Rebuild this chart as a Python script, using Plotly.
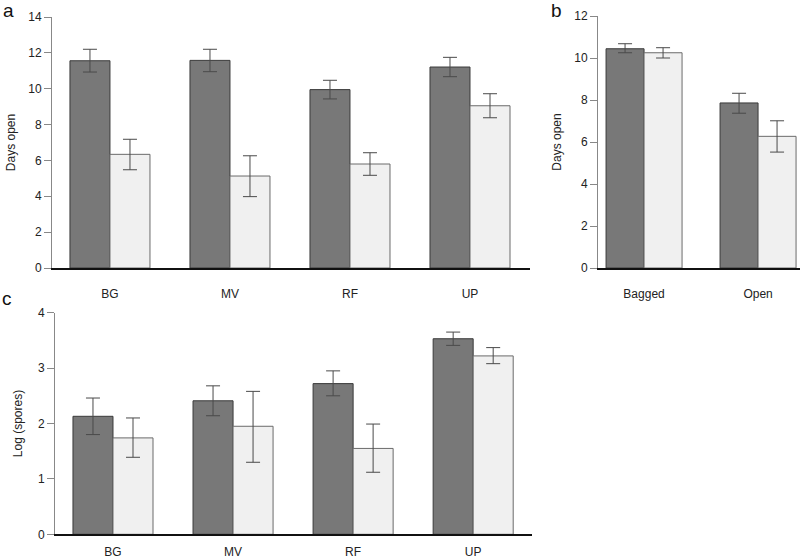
import plotly.graph_objects as go

W, H = 800, 560

# ---- data ----
sites = ["BG", "MV", "RF", "UP"]
a_dark = [11.56, 11.58, 9.95, 11.21]
a_dark_hi = [12.20, 12.20, 10.47, 11.75]
a_dark_lo = [10.93, 10.95, 9.43, 10.67]
a_light = [6.34, 5.13, 5.80, 9.05]
a_light_hi = [7.18, 6.26, 6.43, 9.72]
a_light_lo = [5.48, 3.98, 5.17, 8.38]

treat = ["Bagged", "Open"]
b_dark = [10.44, 7.86]
b_dark_hi = [10.68, 8.32]
b_dark_lo = [10.25, 7.37]
b_light = [10.25, 6.27]
b_light_hi = [10.49, 7.01]
b_light_lo = [10.00, 5.52]

c_dark = [2.13, 2.41, 2.72, 3.53]
c_dark_hi = [2.46, 2.68, 2.95, 3.65]
c_dark_lo = [1.80, 2.14, 2.50, 3.41]
c_light = [1.74, 1.95, 1.55, 3.22]
c_light_hi = [2.10, 2.58, 1.99, 3.37]
c_light_lo = [1.39, 1.30, 1.12, 3.08]

DARK = "#787878"
DARK_LINE = "#3a3a3a"
LIGHT = "#f0f0f0"
LIGHT_LINE = "#6a6a6a"
ERR = "#4a4a4a"
FONT = "Liberation Sans, Arial, sans-serif"


def px_x(p):
    return p / W


def px_y(p):
    return 1 - p / H


def err(vals, hi, lo):
    return dict(type="data", symmetric=False,
                array=[h - v for h, v in zip(hi, vals)],
                arrayminus=[v - l for v, l in zip(vals, lo)],
                color=ERR, thickness=1, width=7)


fig = go.Figure()

panels = [
    ("x", "y", sites, a_dark, a_dark_hi, a_dark_lo, a_light, a_light_hi, a_light_lo),
    ("x2", "y2", treat, b_dark, b_dark_hi, b_dark_lo, b_light, b_light_hi, b_light_lo),
    ("x3", "y3", sites, c_dark, c_dark_hi, c_dark_lo, c_light, c_light_hi, c_light_lo),
]
for xa, ya, cats, d, dh, dl, l, lh, ll in panels:
    fig.add_trace(go.Bar(x=cats, y=d, xaxis=xa, yaxis=ya, offsetgroup="1",
                         marker=dict(color=DARK, line=dict(color=DARK_LINE, width=1)),
                         error_y=err(d, dh, dl), showlegend=False))
    fig.add_trace(go.Bar(x=cats, y=l, xaxis=xa, yaxis=ya, offsetgroup="2",
                         marker=dict(color=LIGHT, line=dict(color=LIGHT_LINE, width=1)),
                         error_y=err(l, lh, ll), showlegend=False))

xbase = dict(type="category", showgrid=False, zeroline=False, showline=True,
             linecolor="#111111", linewidth=1.5, ticks="", fixedrange=True,
             automargin=False,
             tickfont=dict(family=FONT, size=12, color="#222222"))
ybase = dict(showgrid=False, zeroline=False, showline=True, linecolor="#888888",
             linewidth=1, ticks="outside", ticklen=7, tickcolor="#888888",
             automargin=False, fixedrange=True,
             tickfont=dict(family=FONT, size=12, color="#222222"),
             title_font=dict(family=FONT, size=12, color="#222222"))

fig.update_layout(
    width=W, height=H, margin=dict(l=0, r=0, t=0, b=0, autoexpand=False),
    paper_bgcolor="white", plot_bgcolor="white",
    barmode="group", bargap=1 / 3, bargroupgap=0,
    xaxis=dict(xbase, domain=[px_x(52), px_x(530)], range=[-0.483, 3.5],
               anchor="y", ticklabelstandoff=14),
    yaxis=dict(ybase, domain=[px_y(268), px_y(17)], range=[0, 14], dtick=2,
               anchor="x", title=dict(text="Days open", standoff=10)),
    xaxis2=dict(xbase, domain=[px_x(598), px_x(800)], range=[-0.404, 1.368],
                anchor="y2", ticklabelstandoff=14),
    yaxis2=dict(ybase, domain=[px_y(268), px_y(16)], range=[0, 12], dtick=2,
                anchor="x2", title=dict(text="Days open", standoff=10)),
    xaxis3=dict(xbase, domain=[px_x(55), px_x(532)], range=[-0.483, 3.49],
                anchor="y3", ticklabelstandoff=6),
    yaxis3=dict(ybase, domain=[px_y(534.3), px_y(312.7)], range=[0, 4], dtick=1,
                anchor="x3", title=dict(text="Log (spores)", standoff=12)),
)

for txt, x, y in [("a", 8, 10), ("b", 556, 10), ("c", 7, 298)]:
    fig.add_annotation(text=txt, x=px_x(x), y=px_y(y), xref="paper", yref="paper",
                       showarrow=False, xanchor="center", yanchor="middle",
                       font=dict(family=FONT, size=19, color="#111111"))

fig.write_html("out.html", config={"displayModeBar": False},
               post_script="document.body.style.margin='0';document.body.style.overflow='hidden';")
